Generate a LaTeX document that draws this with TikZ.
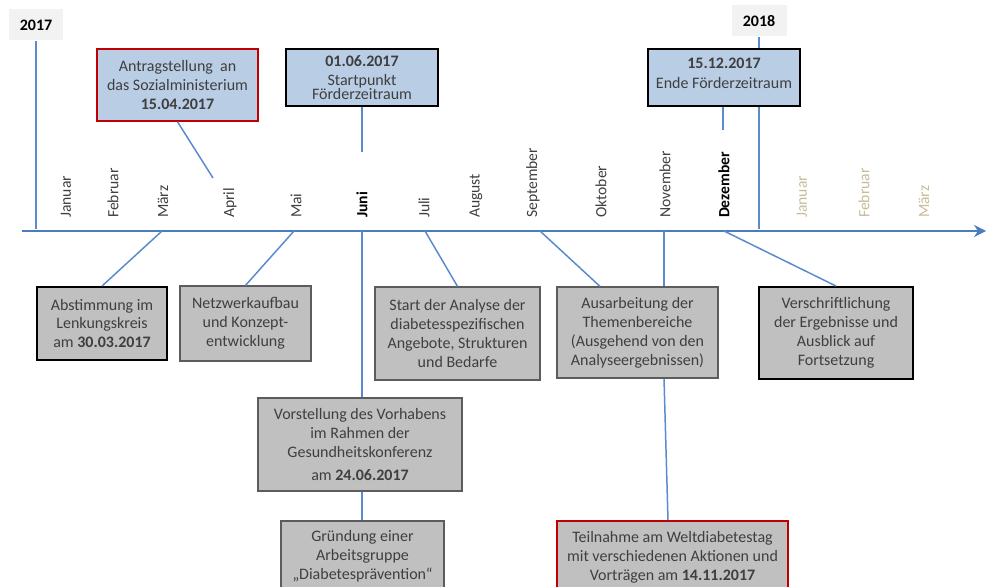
\documentclass[tikz,border=0pt]{standalone}
\usepackage{fontspec}
\setmainfont{Carlito}
\usetikzlibrary{arrows.meta,positioning,calc}
\definecolor{Axis}{HTML}{4A7EBB}
\definecolor{Link}{HTML}{5B8BCF}
\definecolor{BoxGray}{HTML}{C0C0C0}
\definecolor{BoxBlue}{HTML}{B9CDE5}
\definecolor{YearGray}{HTML}{F2F2F2}
\definecolor{Ink}{HTML}{3F3F3F}
\definecolor{Mark}{HTML}{C00000}
\definecolor{Later}{HTML}{C7BC98}
\newcommand\txt{\fontsize{9.1pt}{10.8pt}\selectfont}
\newcommand\mtxt{\fontsize{8.9pt}{10.8pt}\selectfont}
\tikzset{
  graybox/.style={draw=Ink!85,fill=BoxGray,line width=0.7pt,align=center,font=\txt,text=Ink,inner sep=1pt},
  strongbox/.style={graybox,draw=black,line width=1.1pt},
  bluebox/.style={draw=black,fill=BoxBlue,line width=1.1pt,align=center,font=\txt,text=Ink,inner sep=1pt},
  markbox/.style={draw=Mark,line width=0.9pt},
  yearbox/.style={fill=YearGray,font=\txt\bfseries,text=black,minimum width=1.1cm,minimum height=0.62cm},
  month/.style={rotate=90,anchor=west,font=\mtxt,text=Ink,inner sep=1pt},
  later/.style={month,text=Later},
  link/.style={draw=Link,line width=0.85pt},
  axis/.style={-{Stealth[length=2.4mm,width=2.4mm]},draw=Axis,line width=1.7pt}
}

\begin{document}
\begin{tikzpicture}[x=0.02cm,y=-0.02cm]
  \clip (0,0) rectangle (986,587);
  % points on the time axis
  \coordinate (axisL) at (22,231);
  \coordinate (axisR) at (986,231);
  \coordinate (y17) at (36,229);
  \coordinate (y18) at (759,229);
  \coordinate (tMar) at (162,231);
  \coordinate (tMai) at (294,231);
  \coordinate (tJun) at (362,231);
  \coordinate (tJul) at (425,231);
  \coordinate (tSep) at (540,231);
  \coordinate (tNov) at (664,231);
  \coordinate (tDez) at (724,231);
  \coordinate (tApr) at (213,178);
  \coordinate (tStart) at (362,152);
  \coordinate (tEnde) at (723,130);

  % years
  \node[yearbox] (y2017) at (36,25) {2017};
  \node[yearbox] (y2018) at (759,21) {2018};

  % months
  \node[month] (jan) at (66,220) {Januar};
  \node[month] (feb) at (113,220) {Februar};
  \node[month] (mar) at (163,220) {März};
  \node[month] (apr) at (230,220) {April};
  \node[month] (mai) at (296,220) {Mai};
  \node[month,text=black] (jun) at (362,220) {\textbf{Juni}};
  \node[month] (jul) at (424,220) {Juli};
  \node[month] (aug) at (476,220) {August};
  \node[month] (sep) at (533,220) {September};
  \node[month] (okt) at (601,220) {Oktober};
  \node[month] (nov) at (665,220) {November};
  \node[month,text=black] (dez) at (724,220) {\textbf{Dezember}};
  \node[later] (jan2) at (802,220) {Januar};
  \node[later] (feb2) at (864,220) {Februar};
  \node[later] (mar2) at (924,220) {März};

  % boxes above the axis
  \node[bluebox,markbox,minimum width=3.22cm,minimum height=1.44cm] (antrag) at (177.5,85)
    {Antragstellung~ an\\das Sozialministerium\\\textbf{15.04.2017}};
  \node[bluebox,minimum width=3.04cm,minimum height=1.14cm] (start) at (362,77.5)
    {\textbf{01.06.2017}\\Startpunkt\\[-3pt]Förderzeitraum};
  \node[bluebox,minimum width=3.04cm,minimum height=1.14cm] (ende) at (724,77.5)
    {\textbf{15.12.2017}\\[0.5pt]Ende Förderzeitraum\\[-6pt]};

  % boxes below the axis
  \node[strongbox,minimum width=2.6cm,minimum height=1.46cm] (abstimm) at (102,323.5)
    {Abstimmung im\\Lenkungskreis\\am \textbf{30.03.2017}};
  \node[graybox,minimum width=2.62cm,minimum height=1.5cm] (netz) at (245.5,323.5)
    {Netzwerkaufbau\\und Konzept-\\entwicklung};
  \node[graybox,minimum width=3.3cm,minimum height=1.86cm] (analyse) at (457.5,333.5)
    {Start der Analyse der\\diabetesspezifischen\\Angebote, Strukturen\\und Bedarfe};
  \node[graybox,minimum width=3.22cm,minimum height=1.82cm] (ausarb) at (637.5,332.5)
    {Ausarbeitung der\\Themenbereiche\\(Ausgehend von den\\Analyseergebnissen)};
  \node[strongbox,minimum width=3.08cm,minimum height=1.84cm] (verschr) at (836,333)
    {Verschriftlichung\\der Ergebnisse und\\Ausblick auf\\Fortsetzung};
  \node[graybox,minimum width=4.08cm,minimum height=1.86cm] (vorst) at (360,444.5)
    {Vorstellung des Vorhabens\\im Rahmen der\\Gesundheitskonferenz\\[2pt]am \textbf{24.06.2017}};
  \node[graybox,minimum width=3.26cm,minimum height=1.4cm] (gruend) at (362.5,556)
    {Gründung einer\\Arbeitsgruppe\\„Diabetesprävention“};
  \node[graybox,markbox,minimum width=4.62cm,minimum height=1.44cm] (teiln) at (672.5,557)
    {Teilnahme am Weltdiabetestag\\mit verschiedenen Aktionen und\\Vorträgen am \textbf{14.11.2017}};

  % year lines
  \draw[link,line width=0.7pt] (y2017.south) -- (y17);
  \draw[link,line width=0.7pt] (y2018.south) -- (y2018.south |- ende.north);
  \draw[link,line width=0.7pt] (ende.south -| y18) -- (y18);

  % time axis
  \draw[axis] (axisL) -- (axisR);

  % connectors
  \draw[link] (antrag.south) -- (tApr);
  \draw[link] (start.south) -- (tStart);
  \draw[link,line width=1.6pt] (ende.south -| tEnde) -- (tEnde);
  \draw[link] (tMar) -- (abstimm.north);
  \draw[link] (tMai) -- (netz.north);
  \draw[link] (tJun) -- (tJun |- vorst.north);
  \draw[link] (vorst.south -| tJun) -- (tJun |- gruend.north);
  \draw[link] (tJul) -- (analyse.north);
  \draw[link] (tSep) -- ([xshift=-0.75cm]ausarb.north);
  \draw[link] (tNov) -- (tNov |- ausarb.north);
  \draw[link] (ausarb.south -| tNov) -- ([xshift=-0.09cm]teiln.north);
  \draw[link] (tDez) -- (verschr.north);
\end{tikzpicture}
\end{document}
